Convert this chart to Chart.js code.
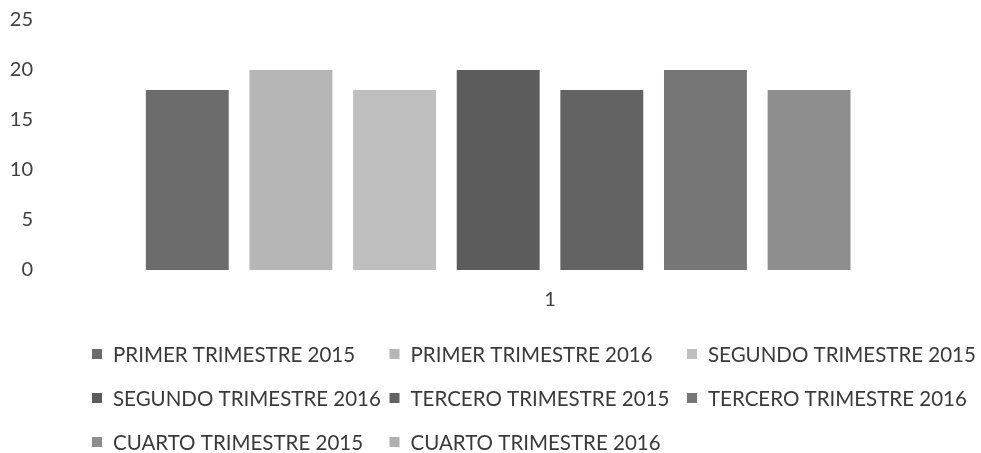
<!DOCTYPE html>
<html>
<head>
<meta charset="utf-8">
<script src="https://cdn.jsdelivr.net/npm/chart.js@4.4.1/dist/chart.umd.min.js"></script>
<style>
  html, body { margin: 0; padding: 0; background: #fff; }
  #wrap { width: 981px; height: 453px; }
</style>
</head>
<body>
<div id="wrap"><canvas id="myChart"></canvas></div>
<script>
`use strict`

// categories (only one group on the x axis)
const categories = ['1'];
// series names, as in the legend
const seriesNames = [
  'PRIMER TRIMESTRE 2015', 'PRIMER TRIMESTRE 2016', 'SEGUNDO TRIMESTRE 2015',
  'SEGUNDO TRIMESTRE 2016', 'TERCERO TRIMESTRE 2015', 'TERCERO TRIMESTRE 2016',
  'CUARTO TRIMESTRE 2015', 'CUARTO TRIMESTRE 2016'
];
// one value per series (last one has no bar)
const seriesValues = [18, 20, 18, 20, 18, 20, 18, null];
// y axis ticks
const yTicks = [0, 5, 10, 15, 20, 25];

// grey shades of the scanned bars
const greys = ['#6c6c6c', '#b6b6b6', '#bebebe', '#5c5c5c', '#636363', '#767676', '#8e8e8e', '#b0b0b0'];

const FONT = 'Lato, "Open Sans", sans-serif';

// legend drawn as a grid (3 columns) like the original
const gridLegend = {
  id: 'gridLegend',
  afterDraw(chart) {
    const ctx = chart.ctx;
    ctx.save();
    ctx.font = '20.5px ' + FONT;
    ctx.textBaseline = 'middle';
    ctx.textAlign = 'left';
    chart.data.datasets.forEach((ds, i) => {
      const col = i % 3;
      const row = Math.floor(i / 3);
      const x = 92 + col * 297.5;
      const y = 354 + row * 44;
      ctx.fillStyle = ds.backgroundColor;
      ctx.fillRect(x, y - 5, 10, 10);
      ctx.fillStyle = '#3a3a3a';
      ctx.fillText(ds.label, x + 21, y + 1);
    });
    ctx.restore();
  }
};

function chartResults() {
  const ctx = document.getElementById('myChart').getContext('2d');
  const myChart = new Chart(ctx, {
    type: 'bar',
    data: {
      labels: categories,
      datasets: seriesNames.map((name, i) => ({
        label: name,
        data: [seriesValues[i]],
        backgroundColor: greys[i],
        borderWidth: 0,
        barPercentage: 0.8,
        categoryPercentage: 0.964
      }))
    },
    options: {
      responsive: true,
      maintainAspectRatio: false,
      animation: false,
      layout: { padding: { top: 20, right: 1, bottom: 123, left: 0 } },
      plugins: {
        legend: { display: false },
        tooltip: { enabled: false }
      },
      scales: {
        x: {
          grid: { display: false, drawTicks: false },
          border: { display: false },
          ticks: { color: '#404040', font: { family: FONT, size: 20 }, padding: 18 }
        },
        y: {
          min: 0,
          max: 25,
          afterBuildTicks: (scale) => { scale.ticks = yTicks.map(v => ({ value: v })); },
          afterFit: (scale) => {
            scale.width = 120;
            scale.paddingTop = 0;
            scale.paddingBottom = 0;
          },
          grid: { display: false, drawTicks: false },
          border: { display: false },
          ticks: { color: '#404040', font: { family: FONT, size: 20 }, padding: 87 }
        }
      }
    },
    plugins: [gridLegend]
  });
  return myChart;
}

//Run chart function
chartResults();
</script>
</body>
</html>
